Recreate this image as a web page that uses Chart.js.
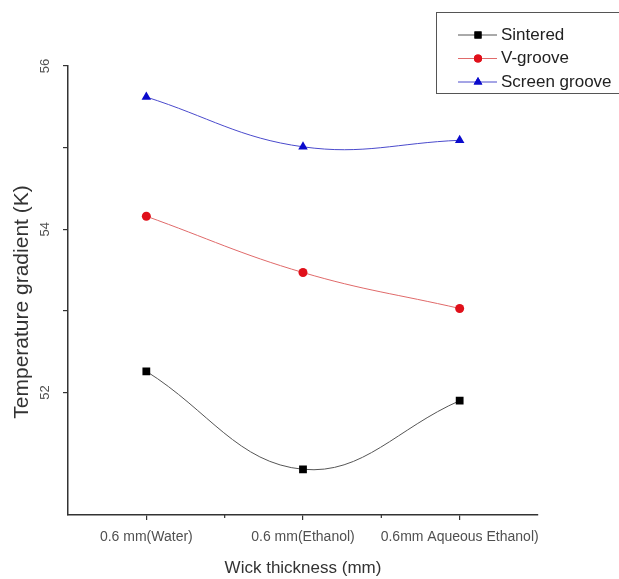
<!DOCTYPE html>
<html>
<head>
<meta charset="utf-8">
<script src="https://cdn.jsdelivr.net/npm/chart.js@4/dist/chart.umd.min.js"></script>
<style>
  html, body { margin: 0; padding: 0; background: #fff; }
  canvas { display: block; }
</style>
</head>
<body>
<canvas id="chart" width="619" height="579"></canvas>
<script>
const categories = ['0.6 mm(Water)', '0.6 mm(Ethanol)', '0.6mm Aqueous Ethanol)'];
const seriesNames = ['Sintered', 'V-groove', 'Screen groove'];
const sintered = [52.26, 51.06, 51.90];
const vGroove = [54.16, 53.47, 53.03];
const screenGroove = [55.62, 55.01, 55.09];
const yLabelled = [52, 54, 56];
const yTitle = 'Temperature gradient (K)';

const FONT = '"Liberation Sans", Arial, sans-serif';

// Small minor ticks between categories on the x axis
const minorTicks = {
  id: 'minorTicks',
  afterDraw(chart) {
    const x = chart.scales.x;
    const ctx = chart.ctx;
    ctx.save();
    ctx.strokeStyle = '#333';
    ctx.lineWidth = 1.2;
    for (let i = 0; i < categories.length - 1; i++) {
      const px = (x.getPixelForTick(i) + x.getPixelForTick(i + 1)) / 2;
      ctx.beginPath();
      ctx.moveTo(px, x.top);
      ctx.lineTo(px, x.top + 3);
      ctx.stroke();
    }
    ctx.restore();
  }
};

// Rotated y title, sitting a little below the middle of the axis like the original
const yTitlePlugin = {
  id: 'yTitlePlugin',
  afterDraw(chart) {
    const ctx = chart.ctx;
    ctx.save();
    ctx.translate(22, 302);
    ctx.rotate(-Math.PI / 2);
    ctx.font = '21px ' + FONT;
    ctx.fillStyle = '#333';
    ctx.textAlign = 'center';
    ctx.textBaseline = 'middle';
    ctx.fillText(yTitle, 0, 0);
    ctx.restore();
  }
};

// Boxed legend in the top right corner
const boxLegend = {
  id: 'boxLegend',
  afterDraw(chart) {
    const ctx = chart.ctx;
    ctx.save();
    ctx.strokeStyle = '#555';
    ctx.lineWidth = 1;
    ctx.strokeRect(436.5, 12.5, 200, 81);
    ctx.font = '17px ' + FONT;
    ctx.textBaseline = 'middle';
    chart.data.datasets.forEach((ds, i) => {
      const y = 35 + i * 23.5;
      ctx.strokeStyle = ds.borderColor;
      ctx.lineWidth = 1;
      ctx.beginPath();
      ctx.moveTo(458, y);
      ctx.lineTo(497, y);
      ctx.stroke();
      ctx.fillStyle = ds.pointBackgroundColor;
      Chart.helpers.drawPoint(ctx, {
        pointStyle: ds.pointStyle,
        radius: ds.pointRadius - 0.5,
        rotation: 0,
        borderWidth: 0
      }, 478, y);
      ctx.fill();
      ctx.fillStyle = '#222';
      ctx.fillText(ds.label, 501, y);
    });
    ctx.restore();
  }
};

const chartCfg = {
  type: 'line',
  data: {
    labels: categories,
    datasets: [{
      label: seriesNames[0],
      data: sintered,
      borderColor: '#555',
      borderWidth: 1,
      pointStyle: 'rect',
      pointRadius: 5.5,
      pointBackgroundColor: '#000',
      pointBorderWidth: 0,
      tension: 0.4
    }, {
      label: seriesNames[1],
      data: vGroove,
      borderColor: '#e06a6a',
      borderWidth: 1,
      pointStyle: 'circle',
      pointRadius: 4.5,
      pointBackgroundColor: '#e0101a',
      pointBorderWidth: 0,
      tension: 0.4
    }, {
      label: seriesNames[2],
      data: screenGroove,
      borderColor: '#4a4acc',
      borderWidth: 1,
      pointStyle: 'triangle',
      pointRadius: 5.5,
      pointBackgroundColor: '#0a0acc',
      pointBorderWidth: 0,
      tension: 0.4
    }]
  },
  options: {
    responsive: false,
    animation: false,
    events: [],
    layout: { padding: { top: 66, right: 81, left: 0, bottom: 0 } },
    plugins: { legend: { display: false }, tooltip: { enabled: false } },
    scales: {
      x: {
        type: 'category',
        offset: true,
        border: { color: '#333', width: 1.5 },
        grid: { drawOnChartArea: false, offset: false, tickLength: 5, tickColor: '#333', lineWidth: 1.2 },
        ticks: {
          autoSkip: false, minRotation: 0, maxRotation: 0, padding: 9,
          color: '#505050', font: { family: FONT, size: 14 }
        },
        title: {
          display: true, text: 'Wick thickness (mm)', color: '#333',
          font: { family: FONT, size: 17 }, padding: { top: 0, bottom: 0 }
        },
        afterFit(scale) { scale.height = 64; }
      },
      y: {
        min: 50.5,
        max: 56,
        border: { color: '#333', width: 1.5 },
        grid: {
          drawOnChartArea: false, tickLength: 5, lineWidth: 1.2,
          tickColor: (c) => (c.tick && c.tick.value === 50.5 ? 'rgba(0,0,0,0)' : '#333')
        },
        ticks: {
          stepSize: 1, minRotation: 90, maxRotation: 90, crossAlign: 'center', padding: 10,
          color: '#505050', font: { family: FONT, size: 13 },
          callback: (v) => (yLabelled.includes(v) ? String(v) : '')
        },
        afterFit(scale) { scale.width = 68; }
      }
    }
  },
  plugins: [minorTicks, yTitlePlugin, boxLegend]
};

new Chart(document.getElementById('chart'), chartCfg);
</script>
</body>
</html>
